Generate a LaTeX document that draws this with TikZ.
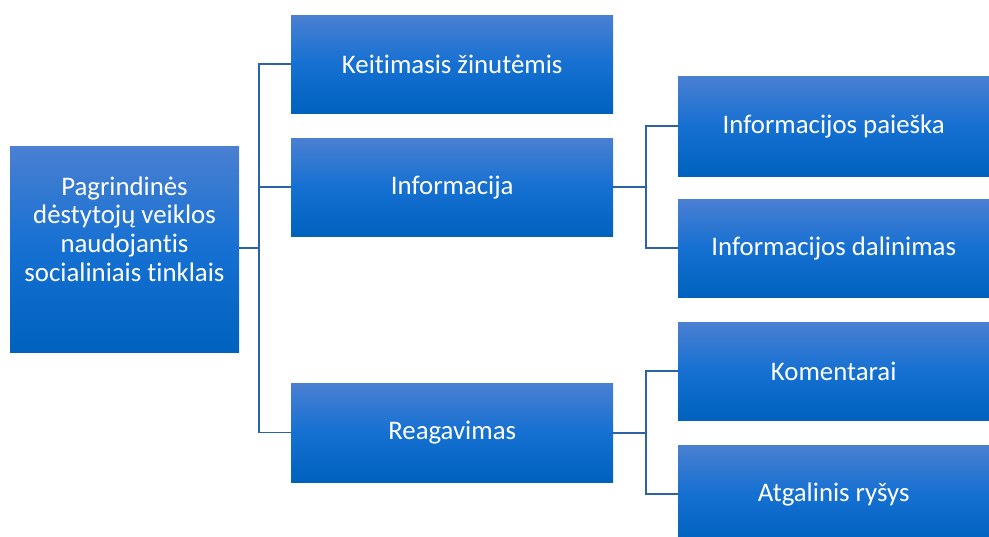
\documentclass[tikz,border=0pt]{standalone}
\usepackage{fontspec}
\setmainfont{Carlito}[Ligatures=NoCommon]
\begin{document}
\begin{tikzpicture}[x=1pt,y=-1pt,
  box/.style={rectangle, inner sep=0pt, align=center, text=white,
    top color=boxtop, bottom color=boxbot, middle color=boxmid,
    font=\fontsize{26.8}{28.6}\selectfont, anchor=north west},
  lbl/.style={inner sep=0pt, align=center, text=white,
    font=\fontsize{26.8}{28.6}\selectfont},
  link/.style={draw=linkc, line width=1.4pt}]
\definecolor{boxtop}{HTML}{4A80D2}
\definecolor{boxmid}{HTML}{1570D2}
\definecolor{boxbot}{HTML}{0062BE}
\definecolor{linkc}{HTML}{2D62A8}
\useasboundingbox (0,0) rectangle (989,537);
% boxes
\node[box, minimum width=229pt, minimum height=206pt] (root) at (10,146) {};
\node[lbl] (rootlbl) at (124.5,229)
  {Pagrindinės\\dėstytojų veiklos\\naudojantis\\socialiniais tinklais};
\node[box, minimum width=322pt, minimum height=98pt] (msg) at (291,15) {Keitimasis žinutėmis};
\node[box, minimum width=322pt, minimum height=98pt] (info) at (291,138) {Informacija};
\node[box, minimum width=322pt, minimum height=99pt] (react) at (291,383) {Reagavimas};
\node[box, minimum width=311pt, minimum height=100pt] (search) at (678,76) {Informacijos paieška};
\node[box, minimum width=311pt, minimum height=98pt] (share) at (678,199) {Informacijos dalinimas};
\node[box, minimum width=311pt, minimum height=98pt] (comm) at (678,322) {Komentarai};
\node[box, minimum width=311pt, minimum height=98pt] (feed) at (678,445) {Atgalinis ryšys};
% connectors
\coordinate (j1) at (259,248);
\coordinate (j2) at (646,187);
\coordinate (j3) at (646,433);
\draw[link] (root.east |- j1) -- (j1);
\draw[link] (j1) |- (msg.west);
\draw[link] (j1) |- (info.west);
\draw[link] (j1) |- (react.west);
\draw[link] (info.east |- j2) -- (j2);
\draw[link] (j2) |- (search.west);
\draw[link] (j2) |- (share.west);
\draw[link] (react.east |- j3) -- (j3);
\draw[link] (j3) |- (comm.west);
\draw[link] (j3) |- (feed.west);
\end{tikzpicture}
\end{document}
